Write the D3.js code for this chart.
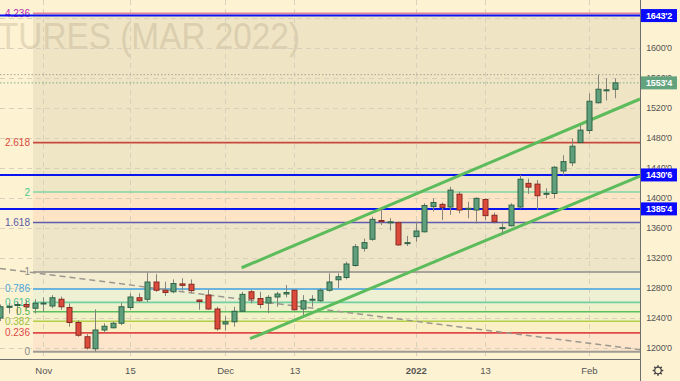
<!DOCTYPE html>
<html><head><meta charset="utf-8">
<script src="https://cdn.jsdelivr.net/npm/d3@7"></script>
<style>
html,body{margin:0;padding:0;background:#fdf2d2;overflow:hidden}
svg{display:block}
</style></head><body>
<svg id="chart" width="680" height="381"></svg>
<script>
// ---------- DATA ----------
const opens  = [1240,1255,1257,1258,1253,1259.5,1256,1265,1254,1234,1215,1199,1224,1227,1233,1254,1267,1265,1288,1277,1275,1285.5,1285,1264,1270.5,1252,1232,1235,1249,1275,1266,1260,1268,1272,1277,1252,1264.5,1263,1277,1291,1294,1310,1333,1345,1370,1368,1367,1340.25,1348.5,1355,1388.5,1391.5,1388,1405,1386,1384,1398,1377,1360.25,1363,1388,1419.5,1418.5,1406,1406,1436,1447,1474,1490,1527,1544,1545];
const highs  = [1258,1260,1262,1264,1265,1267.5,1270.5,1268.5,1259.5,1237,1218.5,1251.5,1233,1235,1260.5,1273,1273,1300.5,1298.5,1288.5,1291.5,1293,1291.5,1264.5,1278,1255,1242.5,1255,1275,1277.5,1275,1270.5,1275,1284,1278,1270.5,1270.5,1279.5,1299.5,1299.5,1315,1338.5,1346,1375,1386,1373,1368.5,1349.5,1368.5,1393,1399.5,1394,1415,1408.5,1395,1401,1399.5,1380.5,1368.5,1393,1430.5,1426,1424,1413,1442.5,1457,1479.5,1497,1539.5,1564.5,1559.5,1559.5];
const lows   = [1236,1246,1244,1251,1246,1248.5,1253,1251,1228.5,1215,1198,1195,1220.5,1226,1230.5,1251,1261.5,1261.5,1275,1269.5,1273,1276.5,1273,1251,1251,1223,1223,1228.5,1248.5,1259.5,1253,1246.5,1255,1267.5,1250,1244,1255,1261.5,1275,1279.5,1291.5,1308.5,1328.5,1343,1364,1356.5,1336,1336,1341.5,1354,1382,1370.5,1377.5,1379.5,1373,1366,1370.5,1366,1352,1362,1386,1405.5,1384,1399.5,1399.5,1430.5,1442.5,1473,1485.5,1526,1530,1533];
const closes = [1255,1255.5,1258,1255,1259.6,1260,1267,1255,1234,1217,1200,1224,1229,1233,1255,1268,1263,1288,1277,1274,1286,1283.5,1276.5,1262,1252,1225.5,1235,1249,1271.5,1265.5,1258,1267.5,1272,1274,1251,1263,1265,1277,1288,1295,1312,1335,1340.5,1371.5,1368.5,1368.25,1337.5,1340.5,1356,1390,1394,1387.5,1410.5,1384,1386.25,1399.5,1376.5,1368.5,1360.5,1390.5,1425,1414.5,1403,1406.25,1441,1448.5,1469,1490.5,1529,1545,1544.25,1553.5];

const tickIndex  = [5,15,26,34,48,56,68];
const tickLabels = ["Nov","15","Dec","13","2022","13","Feb"];
const priceTicks = [1200,1240,1280,1320,1360,1400,1440,1480,1520,1560,1600,1640];

const fibLevels = [0,0.236,0.382,0.5,0.618,0.786,1,1.618,2,2.618,4.236];
const fibLabels = ["0","0.236","0.382","0.5","0.618","0.786","1","1.618","2","2.618","4.236"];
const fibLow = 1195, fibHigh = 1301.5, fibStartIndex = 3.81;

const hLines = [1643.25, 1430.75, 1385.5];
const lastPrice = 1553.5;
const channelUpper = [[27.9,1307],[73.9,1532]];
const channelLower = [[28.87,1212.4],[73.9,1429.3]];
const trendDashed  = [[0,1306],[73.9,1197.7]];

// ---------- STYLE ----------
const fibLineColors  = ["#a09c94","#e04848","#b4d04a","#5cc05c","#72d0a2","#6cb4dc","#a8a49c","#5c5cb0","#82d6a6","#c8483c","#e3829c"];
const fibLabelColors = ["#8a8a8a","#e04848","#9cc23c","#4cb84c","#4cc49a","#4aa6d8","#8a8a8a","#5a5aa8","#4cc48a","#d84a40","#b52bb5"];
const bandColors = ["#fde5cb","#fbefc6","#f3f1c8","#eef1cc","#eef0d4","#f5edd2","#eee5c9","#fce4c4","#efe6c6","#efe4c4"];

const W = 640, H = 359;
const svg = d3.select("#chart");
const x = d3.scaleLinear().domain([0, 73.9]).range([0, W]);
const y = d3.scaleLinear().domain([1184, 1664]).range([360, 0]);

svg.append("rect").attr("width",680).attr("height",381).attr("fill","#fdf2d2");
svg.append("defs").append("clipPath").attr("id","plot")
  .append("rect").attr("x",0).attr("y",0).attr("width",W).attr("height",H);
const g = svg.append("g").attr("clip-path","url(#plot)");

// fib bands
const fibPrice = l => fibLow + l*(fibHigh-fibLow);
const fx0 = x(fibStartIndex);
for (let i=0;i<fibLevels.length-1;i++){
  const yTop = y(fibPrice(fibLevels[i+1])), yBot = y(fibPrice(fibLevels[i]));
  g.append("rect").attr("x",fx0).attr("y",yTop).attr("width",W-fx0).attr("height",yBot-yTop)
    .attr("fill",bandColors[i]);
}

// watermark
g.append("text").attr("x",-2).attr("y",49).attr("font-family","Liberation Sans, Arial, sans-serif")
  .attr("font-size",37).attr("fill","#a89c80").attr("opacity",0.28)
  .attr("textLength",302).attr("lengthAdjust","spacingAndGlyphs")
  .text("TURES (MAR 2022)");

// grid
const grid = g.append("g").attr("stroke","#d8d0ba").attr("stroke-width",1).attr("stroke-dasharray","5,4");
priceTicks.forEach(p=>{
  grid.append("line").attr("x1",0).attr("x2",W).attr("y1",Math.round(y(p))+0.5).attr("y2",Math.round(y(p))+0.5);
});
tickIndex.forEach(i=>{
  grid.append("line").attr("x1",Math.round(x(i))+0.5).attr("x2",Math.round(x(i))+0.5).attr("y1",0).attr("y2",H);
});

// fib lines & labels
fibLevels.forEach((l,i)=>{
  const yy = y(fibPrice(l));
  g.append("line").attr("x1",fx0).attr("x2",W).attr("y1",yy).attr("y2",yy)
    .attr("stroke",fibLineColors[i]).attr("stroke-width",(l===0||l===1||l===0.786)?2:1.6);
  g.append("text").attr("x",fx0-3).attr("y",yy).attr("dy","0.35em").attr("text-anchor","end")
    .attr("font-family","Liberation Sans, Arial, sans-serif").attr("font-size",10)
    .attr("fill",fibLabelColors[i]).text(fibLabels[i]);
});

// gray dashed trend
g.append("line").attr("x1",x(trendDashed[0][0])).attr("y1",y(trendDashed[0][1]))
  .attr("x2",x(trendDashed[1][0])).attr("y2",y(trendDashed[1][1]))
  .attr("stroke","#9c988e").attr("stroke-width",1.5).attr("stroke-dasharray","6,4");

// dotted price lines
const maxHigh = d3.max(highs);
g.append("line").attr("x1",0).attr("x2",W).attr("y1",y(maxHigh)).attr("y2",y(maxHigh))
  .attr("stroke","#a8a496").attr("stroke-width",1).attr("stroke-dasharray","1.5,2");
g.append("line").attr("x1",0).attr("x2",W).attr("y1",y(lastPrice)).attr("y2",y(lastPrice))
  .attr("stroke","#7fae8c").attr("stroke-width",1).attr("stroke-dasharray","1.5,2");

// blue horizontal lines
hLines.forEach(p=>{
  g.append("line").attr("x1",0).attr("x2",W).attr("y1",y(p)).attr("y2",y(p))
    .attr("stroke","#0a14f0").attr("stroke-width",2);
});

// channel lines
[channelUpper, channelLower].forEach(c=>{
  g.append("line").attr("x1",x(c[0][0])).attr("y1",y(c[0][1])).attr("x2",x(c[1][0])).attr("y2",y(c[1][1]))
    .attr("stroke","#5cbc5c").attr("stroke-width",3).attr("stroke-linecap","butt");
});

// candles
const idx = d3.range(opens.length);
const cg = g.append("g");
idx.forEach(i=>{
  const cx = Math.round(x(i));
  const up = closes[i] >= opens[i];
  cg.append("line").attr("x1",cx+0.5).attr("x2",cx+0.5).attr("y1",y(highs[i])).attr("y2",y(lows[i]))
    .attr("stroke","#85847a").attr("stroke-width",1);
  const yt = y(Math.max(opens[i],closes[i])), yb = y(Math.min(opens[i],closes[i]));
  const h = Math.max(1, yb-yt);
  cg.append("rect").attr("x",cx-2).attr("y",yt).attr("width",5).attr("height",h)
    .attr("fill", up ? "#5f9f7c" : "#dc4a3c")
    .attr("stroke", up ? "#2f6447" : "#8a2a20").attr("stroke-width",1);
});

// axes lines
svg.append("line").attr("x1",640.5).attr("x2",640.5).attr("y1",0).attr("y2",381).attr("stroke","#6e6e6e");
svg.append("line").attr("x1",0).attr("x2",640).attr("y1",359.5).attr("y2",359.5).attr("stroke","#6e6e6e");

// price axis (labels fully covered by a price tag are hidden, as in the reference)
const fmt = p => { const n=Math.floor(p); return n + "'" + Math.round((p-n)*8); };
const tagPrices = hLines.concat([lastPrice]);
const labelTicks = priceTicks.filter(p => tagPrices.every(t => Math.abs(y(t)-y(p)) > 4));
const yAxis = d3.axisRight(y).tickValues(labelTicks).tickFormat(fmt).tickSize(0).tickPadding(0);
const ya = svg.append("g").attr("transform","translate(659,0)").call(yAxis);
ya.select(".domain").remove();
ya.selectAll("text").attr("text-anchor","middle").attr("font-family","Liberation Sans, Arial, sans-serif")
  .attr("font-size",9).attr("fill","#555").attr("letter-spacing",-0.2);

// time axis
const xAxis = d3.axisBottom(x).tickValues(tickIndex).tickFormat((d,i)=>tickLabels[i]).tickSize(0).tickPadding(0);
const xa = svg.append("g").attr("transform","translate(0,367)").call(xAxis);
xa.select(".domain").remove();
xa.selectAll("text").attr("font-family","Liberation Sans, Arial, sans-serif").attr("font-size",9.5)
  .attr("fill","#555").attr("font-weight",(d,i)=>tickLabels[i]==="2022"?"bold":"normal");

// price label boxes
function tag(p, fill){
  const yy = y(p);
  svg.append("rect").attr("x",641).attr("y",yy-6.5).attr("width",36).attr("height",13).attr("fill",fill);
  svg.append("text").attr("x",659).attr("y",yy).attr("dy","0.35em").attr("text-anchor","middle")
    .attr("font-family","Liberation Sans, Arial, sans-serif").attr("font-size",9).attr("font-weight","bold")
    .attr("fill","#fff").attr("letter-spacing",-0.2).text(fmt(p));
}
hLines.forEach(p=>tag(p,"#0a0aff"));
tag(lastPrice,"#63a47f");

// gear icon
const gear = svg.append("g").attr("transform","translate(658,370.5)").attr("stroke","#444").attr("fill","none");
gear.append("circle").attr("r",3.3).attr("stroke-width",1.3);
d3.range(8).forEach(k=>{
  const a = k*Math.PI/4;
  gear.append("line").attr("x1",3.3*Math.cos(a)).attr("y1",3.3*Math.sin(a))
    .attr("x2",5.3*Math.cos(a)).attr("y2",5.3*Math.sin(a)).attr("stroke-width",1.5);
});
</script>
</body></html>
